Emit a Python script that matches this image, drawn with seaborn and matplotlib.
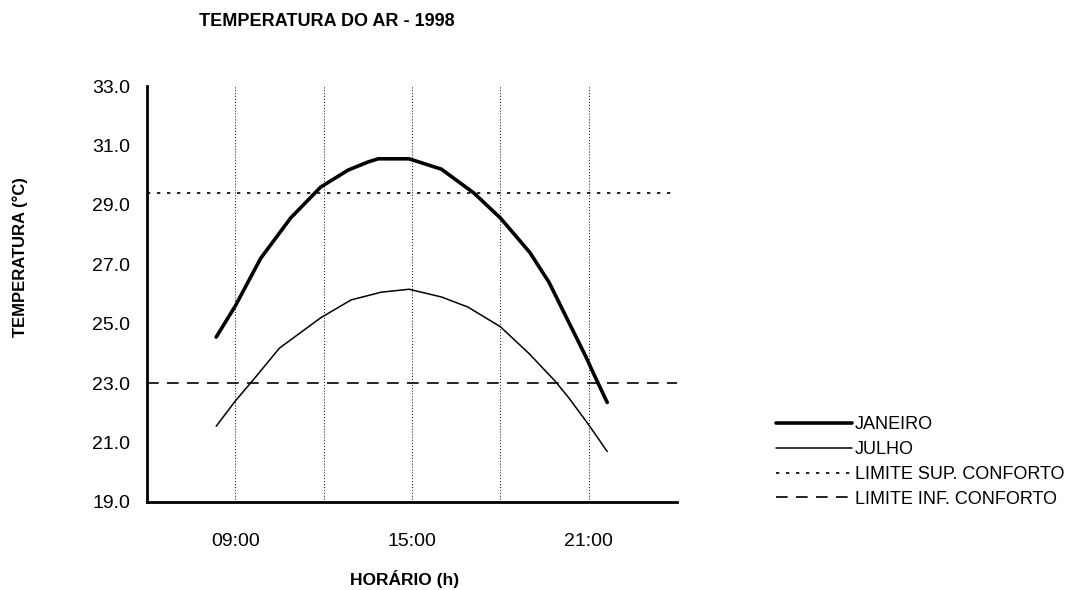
import pandas as pd
import matplotlib
matplotlib.use("Agg")
import matplotlib.pyplot as plt
import seaborn as sns

# Data (hour of day, temperature in °C)
horas_jan = [8.35, 9.0, 9.86, 10.88, 11.9, 12.83, 13.5, 13.85, 14.9, 16.0, 17.1, 18.0, 19.0, 19.65, 20.5, 20.9, 21.2, 21.63]
janeiro = [24.55, 25.6, 27.2, 28.56, 29.6, 30.17, 30.44, 30.55, 30.55, 30.2, 29.4, 28.56, 27.4, 26.4, 24.7, 23.9, 23.25, 22.35]
horas_jul = [8.35, 9.0, 9.6, 10.5, 11.9, 12.93, 13.95, 14.9, 16.0, 16.9, 18.0, 18.97, 19.86, 20.33, 21.0, 21.63]
julho = [21.55, 22.4, 23.1, 24.18, 25.2, 25.8, 26.06, 26.16, 25.9, 25.56, 24.9, 24.0, 23.07, 22.5, 21.6, 20.7]
limite_sup = 29.4
limite_inf = 23.0

y_ticks = [19, 21, 23, 25, 27, 29, 31, 33]
x_major = [6, 12, 18, 24]
x_labels_pos = [9, 15, 21]
x_labels = ["09:00", "15:00", "21:00"]

sns.set_theme(style="white")
plt.rcParams['font.family'] = ['Liberation Sans', 'DejaVu Sans']
plt.rcParams['text.color'] = 'black'
plt.rcParams['xtick.color'] = 'black'
plt.rcParams['ytick.color'] = 'black'

df_jan = pd.DataFrame({'hora': horas_jan, 'temp': janeiro})
df_jul = pd.DataFrame({'hora': horas_jul, 'temp': julho})

fig = plt.figure(figsize=(10.79, 5.90), dpi=100)
ax = fig.add_axes([147 / 1079, 1 - 502 / 590, 530 / 1079, 416 / 590])

sns.lineplot(data=df_jan, x='hora', y='temp', ax=ax, color='black', linewidth=2.6, label='JANEIRO')
sns.lineplot(data=df_jul, x='hora', y='temp', ax=ax, color='black', linewidth=1.1, label='JULHO')
ax.axhline(limite_sup, color='black', linewidth=1.2, linestyle=(0, (2, 4)), label='LIMITE SUP. CONFORTO')
ax.axhline(limite_inf, color='black', linewidth=1.2, linestyle=(0, (7, 5)), label='LIMITE INF. CONFORTO')
for line in ax.get_lines():
    line.set_solid_joinstyle('round')

ax.set_xlim(6, 24)
ax.set_ylim(19, 33)
ax.set_yticks(y_ticks)
ax.set_yticklabels([f"{v:.1f}" for v in y_ticks], fontsize=14)
ax.set_xticks(x_major)
ax.set_xticklabels([""] * len(x_major))
ax.set_xticks(x_labels_pos, minor=True)
ax.set_xticklabels(x_labels, minor=True, fontsize=14)
ax.tick_params(axis='x', which='major', direction='out', length=6, width=1.5, color='black')
ax.tick_params(axis='x', which='minor', length=0, pad=22)
ax.tick_params(axis='y', direction='out', length=6, width=1.5, color='black', pad=6)
ax.grid(which='both', axis='x', color='black', linestyle=(0, (1, 2)), linewidth=0.7)
ax.grid(axis='y', visible=False)

for side in ['top', 'right']:
    ax.spines[side].set_visible(False)
for side in ['left', 'bottom']:
    ax.spines[side].set_color('black')
    ax.spines[side].set_linewidth(2)

ax.set_xlabel("")
ax.set_ylabel("")
fig.text(327 / 1079, 1 - 21 / 590, "TEMPERATURA DO AR - 1998", fontsize=13, fontweight='bold',
         ha='center', va='center')
fig.text(405 / 1079, 1 - 579 / 590, "HORÁRIO (h)", fontsize=12.5, fontweight='bold',
         ha='center', va='center')
fig.text(20 / 1079, 1 - 257 / 590, "TEMPERATURA (°C)", fontsize=12, fontweight='bold',
         ha='center', va='center', rotation=90)

handles, labels = ax.get_legend_handles_labels()
ax.get_legend().remove()
fig.legend(handles, labels, loc='center left', bbox_to_anchor=(760 / 1079, 1 - 462 / 590),
           frameon=False, fontsize=13, handlelength=4.2, handletextpad=0.15, labelspacing=0.43)

fig.savefig('out.png', dpi=100)
